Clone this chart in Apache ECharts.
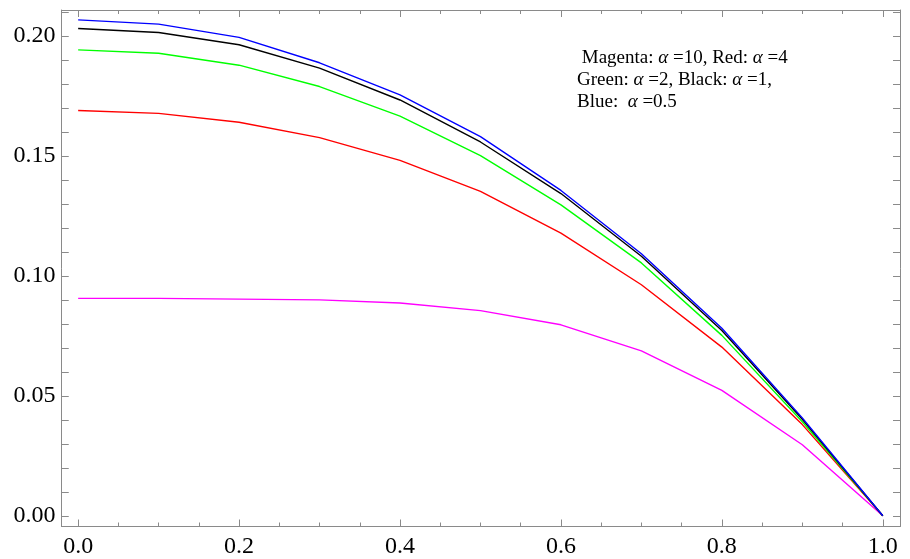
<!DOCTYPE html>
<html>
<head>
<meta charset="utf-8">
<script src="https://cdn.jsdelivr.net/npm/echarts@6/dist/echarts.min.js"></script>
<style>html,body{margin:0;padding:0;background:#fff}#c{width:910px;height:559px}</style>
</head>
<body>
<div id="c"></div>
<script>
const xValues = [0, 0.1, 0.2, 0.3, 0.4, 0.5, 0.6, 0.7, 0.8, 0.9, 1.0];
const magenta = [0.0906, 0.0906, 0.0903, 0.0900, 0.0887, 0.0855, 0.0796, 0.0687, 0.0523, 0.0296, 0];
const red     = [0.1689, 0.1677, 0.1640, 0.1576, 0.1481, 0.1352, 0.1178, 0.0963, 0.0703, 0.0380, 0];
const green   = [0.1942, 0.1928, 0.1878, 0.1789, 0.1666, 0.1501, 0.1296, 0.1054, 0.0752, 0.0392, 0];
const black   = [0.2031, 0.2014, 0.1963, 0.1866, 0.1733, 0.1558, 0.1343, 0.1082, 0.0772, 0.0402, 0];
const blue    = [0.2067, 0.2049, 0.1994, 0.1888, 0.1754, 0.1580, 0.1356, 0.1092, 0.0782, 0.0408, 0];

const xMajorTicks = [0, 0.2, 0.4, 0.6, 0.8, 1.0];
const xMinorTicks = [0.05, 0.1, 0.15, 0.25, 0.3, 0.35, 0.45, 0.5, 0.55, 0.65, 0.7, 0.75, 0.85, 0.9, 0.95];
const yMajorTicks = [0, 0.05, 0.1, 0.15, 0.2];
const yAllTicks = [0, 0.01, 0.02, 0.03, 0.04, 0.05, 0.06, 0.07, 0.08, 0.09, 0.1, 0.11, 0.12, 0.13, 0.14, 0.15, 0.16, 0.17, 0.18, 0.19, 0.2, 0.21];

const X_MIN = -0.0207, X_MAX = 1.0214, Y_MIN = -0.00446, Y_MAX = 0.2108;
const FRAME = '#8a8a8a';
const FONT = "'Liberation Serif', 'Times New Roman', serif";

const gridBox = { left: 61.5, right: 10, top: 10, bottom: 32.5, containLabel: false };

function xAxis(gridIndex, position, ticks, len, showLine, labels) {
  return {
    type: 'value', gridIndex, position, min: X_MIN, max: X_MAX,
    axisLine: { show: showLine, onZero: false, lineStyle: { color: FRAME, width: 1 } },
    axisTick: { show: true, inside: true, length: len, customValues: ticks, lineStyle: { color: FRAME, width: 1 } },
    axisLabel: labels ? { show: true, customValues: ticks, margin: 8, fontSize: 24, fontFamily: FONT, color: '#000', formatter: v => v.toFixed(1) } : { show: false },
    splitLine: { show: false }
  };
}
function yAxis(gridIndex, position, ticks, len, showLine, labels) {
  return {
    type: 'value', gridIndex, position, min: Y_MIN, max: Y_MAX,
    axisLine: { show: showLine, onZero: false, lineStyle: { color: FRAME, width: 1 } },
    axisTick: { show: true, inside: true, length: len, customValues: ticks, lineStyle: { color: FRAME, width: 1 } },
    axisLabel: labels ? { show: true, customValues: yMajorTicks, margin: 6, fontSize: 24, fontFamily: FONT, color: '#000', formatter: v => v.toFixed(2) } : { show: false },
    splitLine: { show: false }
  };
}

function lineSeries(name, data, color) {
  return {
    name, type: 'line', xAxisIndex: 0, yAxisIndex: 0,
    data: xValues.map((x, i) => [x, data[i]]),
    symbol: 'none', lineStyle: { color, width: 1.4 }, itemStyle: { color },
    animation: false
  };
}

const chart = echarts.init(document.getElementById('c'), null, { renderer: 'canvas' });
chart.setOption({
  backgroundColor: '#fff',
  animation: false,
  title: {
    left: 572, top: 42,
    text: '{n| Magenta: }{a|α}{n| =10, Red: }{a|α}{n| =4}\n{n|Green: }{a|α}{n| =2, Black: }{a|α}{n| =1,}\n{n|Blue:  }{a|α}{n| =0.5}',
    textStyle: {
      fontFamily: FONT, fontSize: 19, fontWeight: 'normal', color: '#000', lineHeight: 22,
      rich: {
        n: { fontFamily: FONT, fontSize: 19, color: '#000', lineHeight: 22 },
        a: { fontFamily: FONT, fontSize: 19, fontStyle: 'italic', color: '#000', lineHeight: 22 }
      }
    }
  },
  grid: [
    Object.assign({}, gridBox),
    Object.assign({}, gridBox),
    Object.assign({}, gridBox),
    Object.assign({}, gridBox)
  ],
  xAxis: [
    xAxis(0, 'bottom', xMajorTicks, 7, true, true),
    xAxis(1, 'top', xMajorTicks, 7, true, false),
    xAxis(2, 'bottom', xMinorTicks, 4, false, false),
    xAxis(3, 'top', xMinorTicks, 4, false, false)
  ],
  yAxis: [
    yAxis(0, 'left', yAllTicks, 7, true, true),
    yAxis(1, 'right', yAllTicks, 7, true, false),
    yAxis(2, 'left', yAllTicks, 7, false, false),
    yAxis(3, 'right', yAllTicks, 7, false, false)
  ],
  series: [
    lineSeries('Magenta', magenta, '#ff00ff'),
    lineSeries('Red', red, '#ff0000'),
    lineSeries('Green', green, '#00ff00'),
    lineSeries('Black', black, '#000000'),
    lineSeries('Blue', blue, '#0000ff')
  ]
});
</script>
</body>
</html>
